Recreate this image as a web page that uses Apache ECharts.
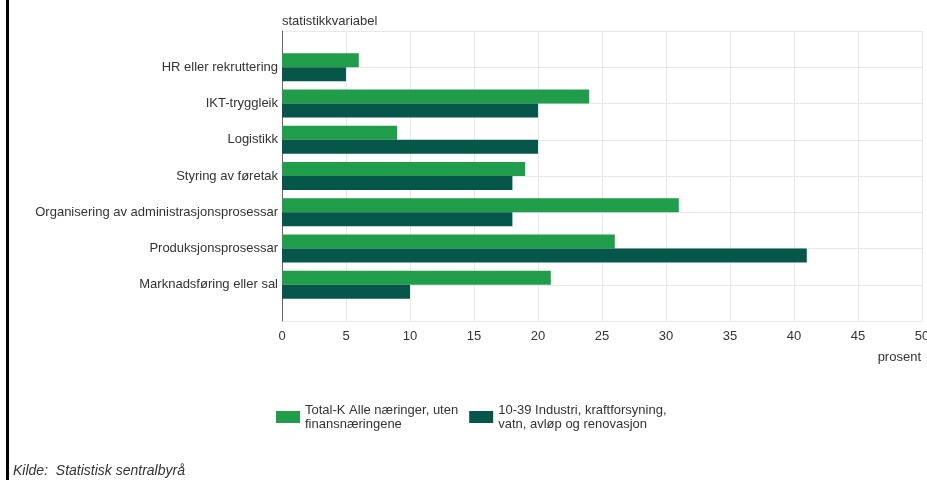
<!DOCTYPE html>
<html>
<head>
<meta charset="utf-8">
<script src="https://cdn.jsdelivr.net/npm/echarts@6/dist/echarts.min.js"></script>
<style>
  html, body { margin: 0; padding: 0; background: #fff; }
  #main { width: 927px; height: 480px; }
</style>
</head>
<body>
<div id="main"></div>
<script>
// kategoriar (ovanfrå og ned)
var categories = ['HR eller rekruttering', 'IKT-tryggleik', 'Logistikk', 'Styring av føretak',
  'Organisering av administrasjonsprosessar', 'Produksjonsprosessar', 'Marknadsføring eller sal'];
var totalK = [6, 24, 9, 19, 31, 26, 21];
var industri = [5, 20, 20, 18, 18, 41, 10];
var xTicks = [0, 5, 10, 15, 20, 25, 30, 35, 40, 45, 50];
var seriesNames = ['Total-K Alle næringer, uten\nfinansnæringene', '10-39 Industri, kraftforsyning,\nvatn, avløp og renovasjon'];

var font = 'Liberation Sans, Arial, sans-serif';

// tom kategori i kvar ende gir luft over og under stolpane
var axisCats = [''].concat(categories, ['']);
function pad(arr) { return [null].concat(arr, [null]); }

var myChart = echarts.init(document.getElementById('main'));

var option = {
  animation: false,
  textStyle: { fontFamily: font },
  grid: { left: 282, right: 5, top: 31, bottom: 159, containLabel: false, outerBoundsMode: 'none' },
  title: {
    text: 'statistikkvariabel',
    left: 277, top: 10,
    textStyle: { fontSize: 13, fontWeight: 'normal', color: '#333', fontFamily: font }
  },
  legend: {
    left: 271, top: 398,
    itemWidth: 24, itemHeight: 12, itemGap: 11,
    icon: 'rect',
    textStyle: { fontSize: 13, color: '#333', lineHeight: 14, fontFamily: font },
    data: seriesNames
  },
  xAxis: {
    type: 'value',
    min: xTicks[0], max: xTicks[xTicks.length - 1], interval: 5,
    axisLine: { show: false },
    axisTick: { show: false },
    axisLabel: { fontSize: 13, color: '#333', margin: 9, fontFamily: font },
    splitLine: { lineStyle: { color: '#e6e9e9', width: 1 } }
  },
  yAxis: {
    type: 'category',
    inverse: true,
    boundaryGap: false,
    data: axisCats,
    axisLine: { show: true, lineStyle: { color: '#666', width: 1 } },
    axisTick: { show: false },
    axisLabel: { fontSize: 13, color: '#333', margin: 4, fontFamily: font },
    splitLine: { show: true, lineStyle: { color: '#e6e9e9', width: 1 } }
  },
  series: [{
    name: seriesNames[0],
    type: 'bar',
    data: pad(totalK),
    barWidth: 14,
    barGap: '0%',
    itemStyle: { color: '#1f9d4a' }
  }, {
    name: seriesNames[1],
    type: 'bar',
    data: pad(industri),
    barWidth: 14,
    barGap: '0%',
    itemStyle: { color: '#06574a' }
  }],
  graphic: [
    { type: 'line', shape: { x1: 7.5, y1: 0, x2: 7.5, y2: 480 }, style: { stroke: '#000', lineWidth: 3 } },
    { type: 'text', right: 6, top: 351, style: { text: 'prosent', fontSize: 13, fill: '#333', fontFamily: font } },
    { type: 'text', left: 13, top: 464, style: { text: 'Kilde:  Statistisk sentralbyrå', fontSize: 14, fontStyle: 'italic', fill: '#333', fontFamily: font } }
  ]
};

myChart.setOption(option);
</script>
</body>
</html>
